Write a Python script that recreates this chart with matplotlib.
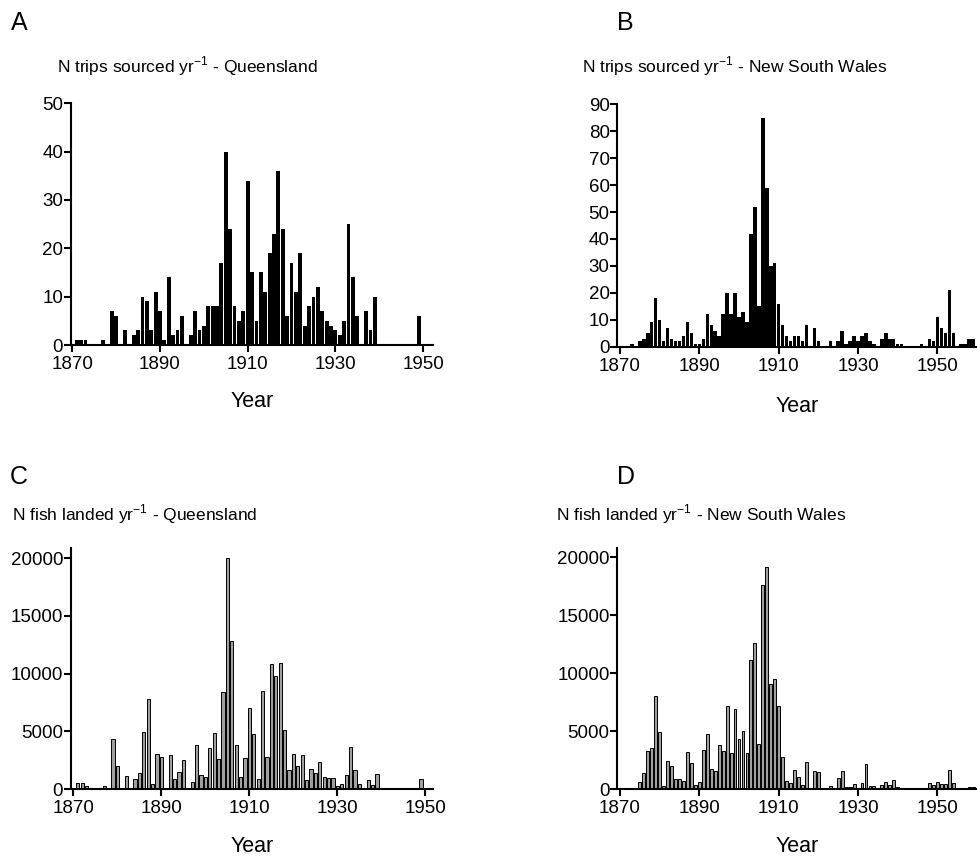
import numpy as np
import matplotlib
matplotlib.use("Agg")
import matplotlib.pyplot as plt

plt.rcParams['font.family'] = ['Liberation Sans', 'DejaVu Sans']

# years
years_qld = np.arange(1870, 1950)
years_nsw = np.arange(1870, 1960)

# N trips sourced per year - Queensland (1870-1949)
trips_qld = [0, 1, 1, 1, 0, 0, 0, 1, 0, 7,
             6, 0, 3, 0, 2, 3, 10, 9, 3, 11,
             7, 1, 14, 2, 3, 6, 0, 2, 7, 3,
             4, 8, 8, 8, 17, 40, 24, 8, 5, 7,
             34, 15, 5, 15, 11, 19, 23, 36, 24, 6,
             17, 11, 19, 4, 8, 10, 12, 7, 5, 4,
             3, 2, 5, 25, 14, 6, 0, 7, 3, 10,
             0, 0, 0, 0, 0, 0, 0, 0, 0, 6]

# N trips sourced per year - New South Wales (1870-1959)
trips_nsw = [0, 0, 0, 1, 0, 2, 3, 5, 9, 18,
             10, 2, 7, 3, 2, 2, 4, 9, 5, 1,
             1, 3, 12, 8, 6, 4, 12, 20, 12, 20,
             11, 13, 9, 42, 52, 15, 85, 59, 30, 31,
             16, 8, 4, 2, 4, 4, 2, 8, 0, 7,
             2, 0, 0, 2, 0, 2, 6, 1, 2, 4,
             2, 4, 5, 2, 1, 0, 3, 5, 3, 3,
             1, 1, 0, 0, 0, 0, 1, 0, 3, 2,
             11, 7, 5, 21, 5, 0, 1, 1, 3, 3]

# N fish landed per year - Queensland (1870-1949)
fish_qld = [0, 520, 520, 320, 0, 0, 0, 290, 0, 4320,
            2050, 0, 1150, 0, 860, 1440, 4990, 7780, 430, 3030,
            2770, 0, 2940, 920, 1500, 2540, 0, 660, 3860, 1270,
            1040, 3570, 4870, 2620, 8420, 20000, 12800, 3830, 1100, 2680,
            7060, 4760, 890, 8490, 2800, 10820, 9840, 10880, 5140, 1650,
            3060, 2050, 2940, 840, 1760, 1440, 2360, 1070, 950, 950,
            290, 430, 1210, 3690, 1650, 430, 0, 840, 370, 1300,
            0, 0, 0, 0, 0, 0, 0, 0, 0, 890]

# N fish landed per year - New South Wales (1870-1959)
fish_nsw = [0, 0, 0, 0, 0, 630, 1380, 3290, 3600, 8010,
            4960, 260, 2450, 2020, 860, 920, 720, 3260, 2310, 370,
            630, 3400, 4780, 1730, 1590, 3860, 3310, 7200, 3140, 6920,
            4380, 5070, 3140, 11180, 12590, 3950, 17580, 19190, 9050, 9480,
            7200, 2770, 690, 580, 1700, 1070, 370, 2360, 0, 1560,
            1470, 0, 0, 260, 0, 980, 1560, 170, 170, 430,
            90, 550, 2220, 290, 290, 0, 370, 660, 370, 840,
            170, 90, 0, 0, 0, 0, 60, 0, 550, 370,
            630, 430, 430, 1640, 550, 0, 90, 90, 200, 200]

W, H = 977, 856
fig = plt.figure(figsize=(W / 100, H / 100), dpi=100)


def add_ax(left, top, right, bottom):
    return fig.add_axes([left / W, 1 - bottom / H, (right - left) / W, (bottom - top) / H])


def style(ax, xlim, ylim, yticks):
    ax.set_xlim(*xlim)
    ax.set_ylim(*ylim)
    ax.set_xticks([1870, 1890, 1910, 1930, 1950])
    ax.set_yticks(yticks)
    for s in ['top', 'right']:
        ax.spines[s].set_visible(False)
    for s in ['left', 'bottom']:
        ax.spines[s].set_linewidth(1.5)
    ax.tick_params(axis='both', length=5, width=1.5, labelsize=13.5)
    ax.tick_params(axis='y', pad=0.5)
    ax.tick_params(axis='x', pad=3)
    ax.patch.set_visible(False)


def ptext(x, y, s, size, ha='left'):
    # y is the baseline, in pixels from the top
    fig.text(x / W, 1 - y / H, s, fontsize=size, ha=ha, va='baseline')


# A
axA = add_ax(70.7, 103.3, 432.7, 345)
axA.bar(years_qld, trips_qld, width=0.88, color='black', linewidth=0)
style(axA, (1869.64, 1952.2), (0, 50), [0, 10, 20, 30, 40, 50])

# B
axB = add_ax(617.3, 104.3, 985, 346.7)
axB.bar(years_nsw, trips_nsw, width=0.88, color='black', linewidth=0)
style(axB, (1869.32, 1962), (0, 90), list(range(0, 91, 10)))

# C
axC = add_ax(70.7, 548.3, 433.3, 789.3)
axC.bar(years_qld, fish_qld, width=0.72, color='#a0a0a0', edgecolor='black', linewidth=0.7)
style(axC, (1869.4, 1951.8), (0, 20840), [0, 5000, 10000, 15000, 20000])

# D
axD = add_ax(617.3, 547.7, 985, 789.3)
axD.bar(years_nsw, fish_nsw, width=0.72, color='#a0a0a0', edgecolor='black', linewidth=0.7)
style(axD, (1869.32, 1962), (0, 20840), [0, 5000, 10000, 15000, 20000])

sup = r'yr$^{\mathregular{-1}}$'
ptext(11, 30, 'A', 18)
ptext(617, 30, 'B', 18)
ptext(10, 484, 'C', 18)
ptext(617, 484, 'D', 18)
ptext(57, 72, 'N trips sourced ' + sup + ' - Queensland', 12.5)
ptext(582, 72, 'N trips sourced ' + sup + ' - New South Wales', 12.5)
ptext(12, 520, 'N fish landed ' + sup + ' - Queensland', 12.5)
ptext(556, 520, 'N fish landed ' + sup + ' - New South Wales', 12.5)
ptext(252, 407, 'Year', 15.5, ha='center')
ptext(797, 412, 'Year', 15.5, ha='center')
ptext(252, 852, 'Year', 15.5, ha='center')
ptext(797, 852, 'Year', 15.5, ha='center')

fig.savefig('out.png', dpi=100)
